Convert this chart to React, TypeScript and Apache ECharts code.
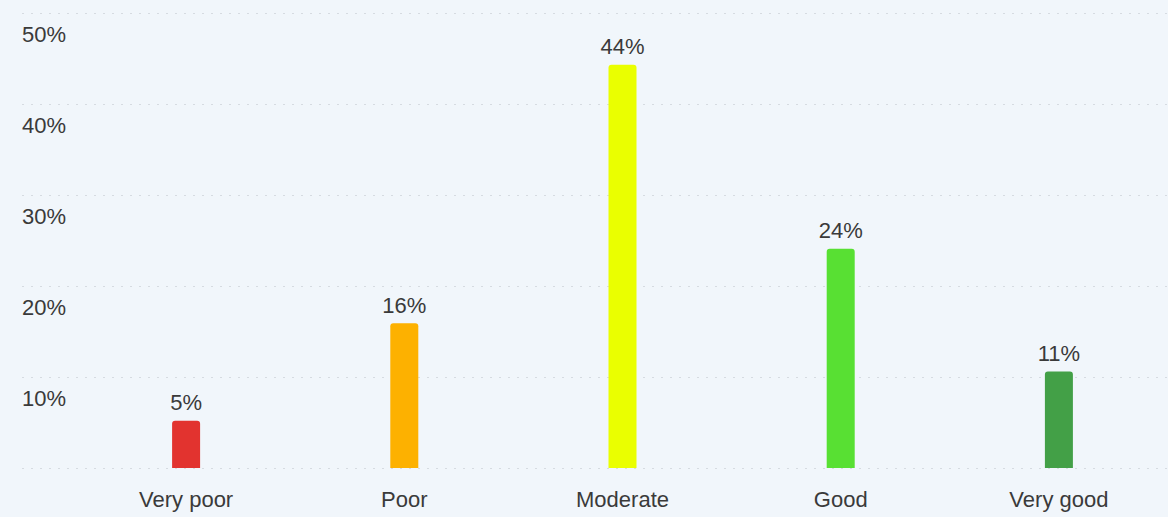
import React, { useEffect, useRef } from "react";
import * as echarts from "echarts";

const categories = ["Very poor", "Poor", "Moderate", "Good", "Very good"];
const values = [5.2, 15.9, 44.3, 24.1, 10.6];
const barColors = ["#e2332f", "#fdb100", "#eaff00", "#58e033", "#43a047"];
const yTicks = [0, 10, 20, 30, 40, 50];

export default function App() {
  const ref = useRef<HTMLDivElement>(null);
  useEffect(() => {
    const chart = echarts.init(ref.current!, null, { renderer: "svg" });
    const font = "Liberation Sans, Arial, sans-serif";
    chart.setOption({
      animation: false,
      backgroundColor: "#f1f6fb",
      grid: [
        { left: 22, right: 0, top: 13, bottom: 49 },
        { left: 77, right: 0, top: 13, bottom: 49 },
      ],
      xAxis: [
        { type: "value", gridIndex: 0, show: false, min: 0, max: 1 },
        {
          type: "category",
          gridIndex: 1,
          data: categories,
          axisLine: { show: false },
          axisTick: { show: false },
          axisLabel: { color: "#3a3a3a", fontSize: 22, fontFamily: font, margin: 20 },
        },
      ],
      yAxis: [
        {
          type: "value",
          gridIndex: 0,
          min: yTicks[0],
          max: yTicks[yTicks.length - 1],
          interval: 10,
          axisLine: { show: false },
          axisTick: { show: false },
          splitLine: { show: true, lineStyle: { color: "#d6dbe1", width: 1, type: [2, 7] } },
          axisLabel: {
            inside: true,
            margin: 0,
            align: "left",
            verticalAlign: "top",
            padding: [10, 0, 0, 0],
            color: "#3a3a3a",
            fontSize: 22,
            fontFamily: font,
            formatter: (v: number) => (v === 0 ? "" : v + "%"),
          },
        },
        {
          type: "value",
          gridIndex: 1,
          min: yTicks[0],
          max: yTicks[yTicks.length - 1],
          show: false,
          splitLine: { show: false },
        },
      ],
      series: [
        {
          type: "bar",
          xAxisIndex: 1,
          yAxisIndex: 1,
          barWidth: 28,
          data: values.map((v, i) => ({ value: v, itemStyle: { color: barColors[i] } })),
          itemStyle: { borderRadius: [3, 3, 0, 0] },
          label: {
            show: true,
            position: "top",
            distance: 7,
            color: "#3a3a3a",
            fontSize: 22,
            fontFamily: font,
            formatter: (p: any) => Math.round(p.value) + "%",
          },
        },
      ],
    });
    return () => chart.dispose();
  }, []);
  return (
    <div
      ref={ref}
      style={{ position: "fixed", left: 0, top: 0, width: 1168, height: 517 }}
    />
  );
}
